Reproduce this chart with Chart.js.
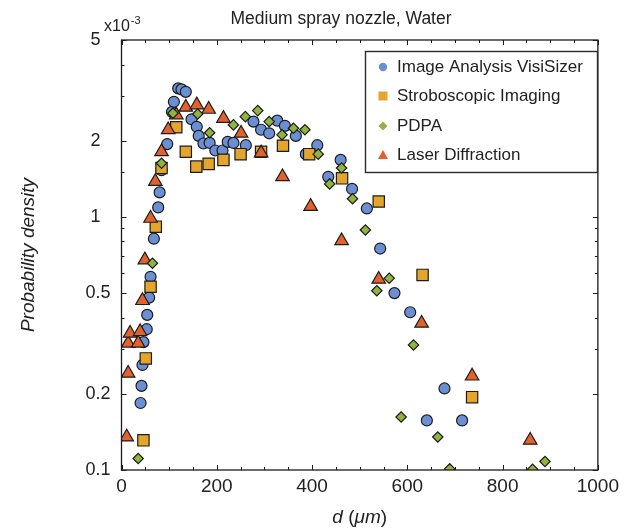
<!DOCTYPE html>
<html>
<head>
<meta charset="utf-8">
<title>Medium spray nozzle, Water</title>
<script src="https://cdn.jsdelivr.net/npm/chart.js@4.4.1/dist/chart.umd.min.js"></script>
<style>
  html, body { margin: 0; padding: 0; background: #ffffff; }
  #wrap { width: 624px; height: 529px; position: relative; }
</style>
</head>
<body>
<div id="wrap"><canvas id="chart" width="624" height="529"></canvas></div>
<script>
// Droplet diameter d (µm) and probability density (in units of 1e-3 per µm)
const visiD = [40, 42, 44, 46, 53, 54, 58, 61, 68, 77, 80, 84, 96, 106, 110, 119, 126, 135, 147, 158, 162, 172, 185, 197, 212, 223, 235, 261, 277, 293, 310, 327, 343, 366, 387, 411, 434, 460, 484, 515, 543, 573, 606, 641, 678, 715];
const visiP = [0.184, 0.215, 0.26, 0.32, 0.36, 0.41, 0.48, 0.58, 0.82, 1.09, 1.25, 1.53, 1.94, 2.6, 2.85, 3.22, 3.19, 3.12, 2.43, 2.27, 2.09, 1.95, 1.96, 1.83, 1.83, 1.98, 1.96, 1.92, 2.38, 2.21, 2.14, 2.40, 2.29, 2.09, 1.77, 1.92, 1.44, 1.68, 1.29, 1.08, 0.75, 0.50, 0.42, 0.157, 0.21, 0.157];

const stroboD = [46, 51, 61, 72, 84, 115, 135, 157, 183, 214, 250, 293, 339, 394, 463, 540, 632, 736];
const stroboP = [0.131, 0.276, 0.53, 0.915, 1.56, 2.26, 1.81, 1.58, 1.62, 1.68, 1.77, 1.81, 1.91, 1.77, 1.42, 1.15, 0.59, 0.194];

const pdpaD = [35, 65, 84, 108, 160, 185, 235, 260, 286, 310, 337, 361, 385, 413, 437, 462, 485, 512, 536, 562, 587, 613, 664, 689, 863, 889];
const pdpaP = [0.111, 0.656, 1.63, 2.57, 2.55, 2.15, 2.31, 2.49, 2.63, 2.38, 2.11, 2.24, 2.21, 1.77, 1.35, 1.56, 1.18, 0.888, 0.511, 0.572, 0.162, 0.312, 0.135, 0.101, 0.1006, 0.108];

const laserD = [11, 14, 14, 18, 35, 39, 44, 49, 61, 71, 84, 98, 115, 135, 158, 183, 214, 251, 293, 338, 397, 462, 540, 630, 736, 858];
const laserP = [0.135, 0.241, 0.317, 0.347, 0.317, 0.352, 0.467, 0.676, 0.987, 1.38, 1.81, 2.21, 2.53, 2.71, 2.77, 2.66, 2.45, 2.14, 1.79, 1.44, 1.10, 0.805, 0.567, 0.38, 0.235, 0.131];

const seriesNames = ['Image Analysis VisiSizer', 'Stroboscopic Imaging', 'PDPA', 'Laser Diffraction'];
const xLabelled = [0, 200, 400, 600, 800, 1000];
const yLabelled = [0.1, 0.2, 0.5, 1, 2, 5];

const FONT = '"Liberation Sans", Arial, Helvetica, sans-serif';
const INK = '#1c1c1c';
const COLORS = {
  visi: '#6b8fd4',
  strobo: '#e3a52c',
  pdpa: '#8fb53e',
  laser: '#e2622d'
};

function pairs(xs, ys) { return xs.map((x, i) => ({ x: x, y: ys[i] })); }

const isLabelledY = v => yLabelled.some(t => Math.abs(t - v) < 1e-9);

// Inward ticks on all four sides, full frame, axis titles, exponent and legend
const decor = {
  id: 'decor',
  afterDraw(chart) {
    const ctx = chart.ctx;
    const a = chart.chartArea;
    const xs = chart.scales.x, ys = chart.scales.y;
    ctx.save();
    ctx.strokeStyle = INK;
    ctx.lineWidth = 1.3;
    ctx.strokeRect(a.left, a.top, a.right - a.left, a.bottom - a.top);

    ctx.lineWidth = 1;
    ctx.beginPath();
    xs.ticks.forEach(t => {
      const px = Math.round(xs.getPixelForValue(t.value)) + 0.5;
      const len = (t.value % 200 === 0) ? 5 : 3;
      ctx.moveTo(px, a.bottom); ctx.lineTo(px, a.bottom - len);
      ctx.moveTo(px, a.top); ctx.lineTo(px, a.top + len);
    });
    ys.ticks.forEach(t => {
      const py = Math.round(ys.getPixelForValue(t.value)) + 0.5;
      const len = isLabelledY(t.value) ? 5 : 3;
      ctx.moveTo(a.left, py); ctx.lineTo(a.left + len, py);
      ctx.moveTo(a.right, py); ctx.lineTo(a.right - len, py);
    });
    ctx.stroke();

    // title
    ctx.fillStyle = '#222';
    ctx.textBaseline = 'middle';
    ctx.textAlign = 'center';
    ctx.font = '17.5px ' + FONT;
    ctx.fillText('Medium spray nozzle, Water', 341, 19);

    // exponent of the y axis
    ctx.textAlign = 'left';
    ctx.font = '16px ' + FONT;
    ctx.fillText('x10', 104, 27);
    const w = ctx.measureText('x10').width;
    ctx.font = '11px ' + FONT;
    ctx.fillText('-3', 104 + w + 1, 21);

    // x axis title: d (µm) with italic symbols
    ctx.textBaseline = 'alphabetic';
    const parts = [['d', true], [' (', false], ['\u03bcm', true], [')', false]];
    const setF = it => { ctx.font = (it ? 'italic ' : '') + '19px ' + FONT; };
    let total = 0;
    parts.forEach(p => { setF(p[1]); total += ctx.measureText(p[0]).width; });
    let cx = (a.left + a.right) / 2 - total / 2;
    parts.forEach(p => { setF(p[1]); ctx.fillText(p[0], cx, 523); cx += ctx.measureText(p[0]).width; });

    // y axis title
    ctx.save();
    ctx.translate(29, (a.top + a.bottom) / 2);
    ctx.rotate(-Math.PI / 2);
    ctx.textAlign = 'center';
    ctx.textBaseline = 'middle';
    ctx.font = 'italic 19px ' + FONT;
    ctx.fillText('Probability density', 0, 0);
    ctx.restore();

    // legend
    const bx = 365.5, by = 51.5, bw = 232, bh = 121;
    ctx.fillStyle = '#ffffff';
    ctx.fillRect(bx, by, bw, bh);
    ctx.strokeStyle = '#2a2a2a';
    ctx.lineWidth = 1.4;
    ctx.strokeRect(bx, by, bw, bh);
    const rows = [67, 96, 126, 155];
    const mx = 383;
    const fills = [COLORS.visi, COLORS.strobo, COLORS.pdpa, COLORS.laser];
    rows.forEach((ry, i) => {
      ctx.fillStyle = fills[i];
      ctx.beginPath();
      if (i === 0) {
        ctx.arc(mx, ry, 4.2, 0, Math.PI * 2);
      } else if (i === 1) {
        ctx.rect(mx - 4.5, ry - 4.5, 9, 9);
      } else if (i === 2) {
        ctx.moveTo(mx, ry - 4.5); ctx.lineTo(mx + 4.5, ry); ctx.lineTo(mx, ry + 4.5); ctx.lineTo(mx - 4.5, ry);
        ctx.closePath();
      } else {
        ctx.moveTo(mx, ry - 5); ctx.lineTo(mx + 5, ry + 4); ctx.lineTo(mx - 5, ry + 4);
        ctx.closePath();
      }
      ctx.fill();
      ctx.fillStyle = '#222';
      ctx.textAlign = 'left';
      ctx.textBaseline = 'middle';
      ctx.font = '17px ' + FONT;
      ctx.fillText(seriesNames[i], 397, ry);
    });
    ctx.restore();
  }
};

const common = { borderColor: INK, borderWidth: 1.2, showLine: false };

new Chart(document.getElementById('chart'), {
  type: 'scatter',
  data: {
    datasets: [
      Object.assign({ label: seriesNames[0], data: pairs(visiD, visiP), pointStyle: 'circle', pointRadius: 5.5, backgroundColor: COLORS.visi, order: 4 }, common),
      Object.assign({ label: seriesNames[1], data: pairs(stroboD, stroboP), pointStyle: 'rect', pointRadius: 8, backgroundColor: COLORS.strobo, order: 3 }, common),
      Object.assign({ label: seriesNames[2], data: pairs(pdpaD, pdpaP), pointStyle: 'rectRot', pointRadius: 5.2, backgroundColor: COLORS.pdpa, order: 1 }, common),
      Object.assign({ label: seriesNames[3], data: pairs(laserD, laserP), pointStyle: 'triangle', pointRadius: 7.8, backgroundColor: COLORS.laser, order: 2 }, common)
    ]
  },
  options: {
    responsive: false,
    devicePixelRatio: 1,
    animation: false,
    events: [],
    layout: { padding: { top: 40, right: 23.5, bottom: 0, left: 0 } },
    plugins: { legend: { display: false }, tooltip: { enabled: false }, title: { display: false } },
    scales: {
      x: {
        type: 'linear',
        min: 0, max: 1000,
        grid: { display: false, drawTicks: false },
        border: { display: false },
        ticks: {
          stepSize: 50,
          autoSkip: false,
          maxRotation: 0,
          padding: 5,
          color: '#222',
          font: { family: FONT, size: 19 },
          callback: v => (xLabelled.indexOf(v) >= 0 ? String(v) : '')
        },
        afterFit: s => { s.height = 59; }
      },
      y: {
        type: 'logarithmic',
        min: 0.1, max: 5,
        grid: { display: false, drawTicks: false },
        border: { display: false },
        ticks: {
          autoSkip: false,
          padding: 11,
          color: '#222',
          font: { family: FONT, size: 18 },
          callback: v => {
            if (!isLabelledY(v)) return '';
            const t = yLabelled.find(t => Math.abs(t - v) < 1e-9);
            return t >= 1 ? String(t) + '  ' : String(t);
          }
        },
        afterFit: s => { s.width = 121.5; }
      }
    }
  },
  plugins: [decor]
});
</script>
</body>
</html>
